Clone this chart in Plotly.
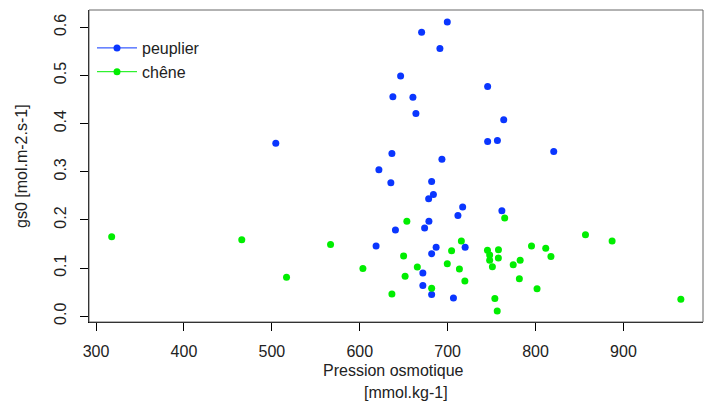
import plotly.graph_objects as go

# Data
peuplier_x = [504.5, 699.6, 670.4, 691.2, 646.5, 745.5, 637.7, 660.5, 663.9, 763.8,
              745.5, 756.6, 820.7, 636.6, 693.5, 621.8, 635.4, 681.8, 683.8, 678.4,
              717.1, 711.7, 761.7, 678.7, 673.8, 640.6, 618.6, 686.9, 719.9, 681.8,
              671.8, 671.8, 681.8, 706.6]
peuplier_y = [0.359, 0.611, 0.590, 0.556, 0.499, 0.477, 0.456, 0.455, 0.421, 0.408,
              0.363, 0.365, 0.342, 0.338, 0.326, 0.304, 0.277, 0.280, 0.253, 0.244,
              0.227, 0.209, 0.219, 0.197, 0.183, 0.179, 0.146, 0.143, 0.143, 0.130,
              0.090, 0.064, 0.045, 0.038]

chene_x = [317.8, 465.8, 516.7, 566.8, 603.6, 653.6, 649.9, 665.5, 651.6, 636.6,
           681.8, 715.6, 704.5, 699.6, 713.4, 719.6, 764.9, 745.3, 747.8, 747.8,
           750.9, 757.8, 757.7, 774.6, 782.5, 781.6, 795.4, 811.6, 817.5, 801.7,
           753.7, 756.4, 856.8, 887.1, 965.3]
chene_y = [0.165, 0.159, 0.081, 0.149, 0.099, 0.197, 0.125, 0.102, 0.083, 0.046,
           0.058, 0.156, 0.136, 0.109, 0.098, 0.073, 0.204, 0.137, 0.127, 0.116,
           0.103, 0.138, 0.121, 0.107, 0.116, 0.078, 0.146, 0.141, 0.124, 0.057,
           0.037, 0.011, 0.169, 0.156, 0.035]

x_ticks = [300, 400, 500, 600, 700, 800, 900]
y_ticks = [0.0, 0.1, 0.2, 0.3, 0.4, 0.5, 0.6]
y_ticklabels = ["0.0", "0.1", "0.2", "0.3", "0.4", "0.5", "0.6"]

series_names = ["peuplier", "chêne"]
BLUE = "#0a36ff"
GREEN = "#00ee00"

W, H = 712, 403
L, R, T, B = 89, 9, 10, 81
PW, PH = W - L - R, H - T - B


def px(x):
    return (x - L) / PW


def py(y):
    return (H - B - y) / PH


FONT = "Liberation Sans, Arial, sans-serif"

fig = go.Figure()
fig.add_trace(go.Scatter(x=peuplier_x, y=peuplier_y, mode="markers",
                         marker=dict(color=BLUE, size=7), showlegend=False,
                         name=series_names[0]))
fig.add_trace(go.Scatter(x=chene_x, y=chene_y, mode="markers",
                         marker=dict(color=GREEN, size=7), showlegend=False,
                         name=series_names[1]))
# legend-only entries (line + point, like the reference legend)
fig.add_trace(go.Scatter(x=[None], y=[None], mode="lines+markers", name=series_names[0],
                         line=dict(color=BLUE, width=1), marker=dict(color=BLUE, size=7)))
fig.add_trace(go.Scatter(x=[None], y=[None], mode="lines+markers", name=series_names[1],
                         line=dict(color=GREEN, width=1), marker=dict(color=GREEN, size=7)))

axis_common = dict(showgrid=False, zeroline=False, showline=True, linecolor="black",
                   linewidth=1, ticks="outside", ticklen=8, tickcolor="black",
                   tickfont=dict(family=FONT, size=16, color="#222"))

fig.update_layout(
    width=W, height=H,
    margin=dict(l=L, r=R, t=T, b=B, pad=0),
    paper_bgcolor="white", plot_bgcolor="white",
    font=dict(family=FONT, size=16, color="#222"),
    xaxis=dict(range=[292, 990.5], tickvals=x_ticks, ticklabelstandoff=7, **axis_common),
    yaxis=dict(range=[-0.012, 0.636], tickvals=y_ticks, ticktext=y_ticklabels,
               tickangle=-90, ticklabelstandoff=8, **axis_common),
    legend=dict(x=px(92), y=py(31), xanchor="left", yanchor="top",
                bgcolor="rgba(0,0,0,0)", font=dict(family=FONT, size=16, color="#222"),
                itemwidth=40, tracegroupgap=0),
    shapes=[dict(type="rect", xref="paper", yref="paper", x0=0, x1=1, y0=0, y1=1,
                 line=dict(color="#666", width=1))],
    annotations=[
        dict(text="Pression osmotique", x=px(393.5), y=py(371), xref="paper", yref="paper",
             xanchor="center", yanchor="middle", showarrow=False,
             font=dict(family=FONT, size=16, color="#222")),
        dict(text="[mmol.kg-1]", x=px(406), y=py(392), xref="paper", yref="paper",
             xanchor="center", yanchor="middle", showarrow=False,
             font=dict(family=FONT, size=16, color="#222")),
        dict(text="gs0 [mol.m-2.s-1]", x=px(21), y=py(166), xref="paper", yref="paper",
             xanchor="center", yanchor="middle", showarrow=False, textangle=-90,
             font=dict(family=FONT, size=16, color="#222")),
    ],
)

fig.write_html("out.html")
